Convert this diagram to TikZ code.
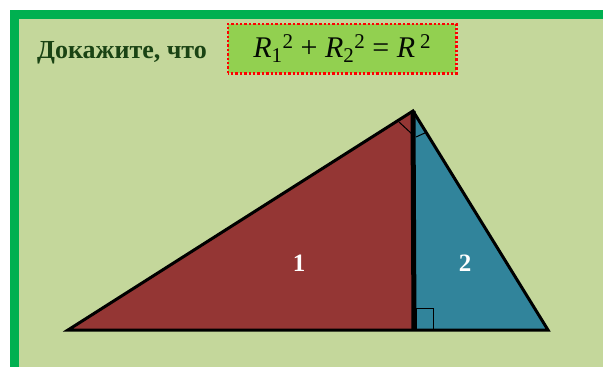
\documentclass[tikz,border=0pt]{standalone}
\usepackage{fontspec}
\setmainfont{Liberation Serif}
\usepackage{tikz}
\usetikzlibrary{calc}
\definecolor{board}{HTML}{C4D79B}
\definecolor{frame}{HTML}{00B050}
\definecolor{lime}{HTML}{92D050}
\definecolor{brick}{HTML}{943634}
\definecolor{sea}{HTML}{31849B}
\definecolor{ink}{HTML}{1A4314}
\colorlet{leaf}{lime}
\colorlet{part1}{brick}
\colorlet{part2}{sea}

\begin{document}
\begin{tikzpicture}[x=1pt,y=-1pt]
    \useasboundingbox (0,0) rectangle (603,367);
    \fill[board] (10,10) rectangle (603,367);
    \fill[frame] (10,10) rectangle (19,367);
    \fill[frame] (10,10) rectangle (603,19);

    \node (prove) [anchor=base west,inner sep=0pt,text=ink,font=\bfseries\fontsize{26}{30}\selectfont] at (37,58) {Докажите, что};
    \node (claim) [fill=leaf,minimum width=228pt,minimum height=49pt,
                   text=black!85!ink,font=\fontsize{30}{36}\selectfont] at (342,48.5)
        {\textit{R}\textsubscript{1}{\fontsize{21}{24}\selectfont\raisebox{9pt}{2}} + \textit{R}\textsubscript{2}{\fontsize{21}{24}\selectfont\raisebox{9pt}{2}} = \textit{R}\,{\fontsize{21}{24}\selectfont\raisebox{9pt}{2}}};
    \draw[red,line width=2.6pt,dash pattern=on 2.4pt off 2pt] (claim.south west) rectangle (claim.north east);

    \coordinate (A) at (68,330);
    \coordinate (B) at (413,111);
    \coordinate (C) at (548,330);
    \coordinate (H) at (414,330);
    \fill[part1] (A) -- (B) -- (H) -- cycle;
    \fill[part2] (B) -- (C) -- (H) -- cycle;
    \draw[line width=0.8pt] ($(H)+(2,0)$) rectangle ++(17,-22);
    \draw[line width=1pt] ($(B)+(-14,11)$) -- ($(B)+(-1,23)$);
    \draw[line width=1pt] ($(B)+(3,26)$) -- ($(B)+(14,21)$);
    \draw[line width=5pt] (B) -- (H);
    \draw[line width=3pt,line join=miter] (A) -- (B) -- (C) -- cycle;

    \node (one) [text=white,font=\bfseries\fontsize{25}{30}\selectfont] at (299,263) {1};
    \node (two) [text=white,font=\bfseries\fontsize{25}{30}\selectfont] at (465,263) {2};
\end{tikzpicture}
\end{document}
